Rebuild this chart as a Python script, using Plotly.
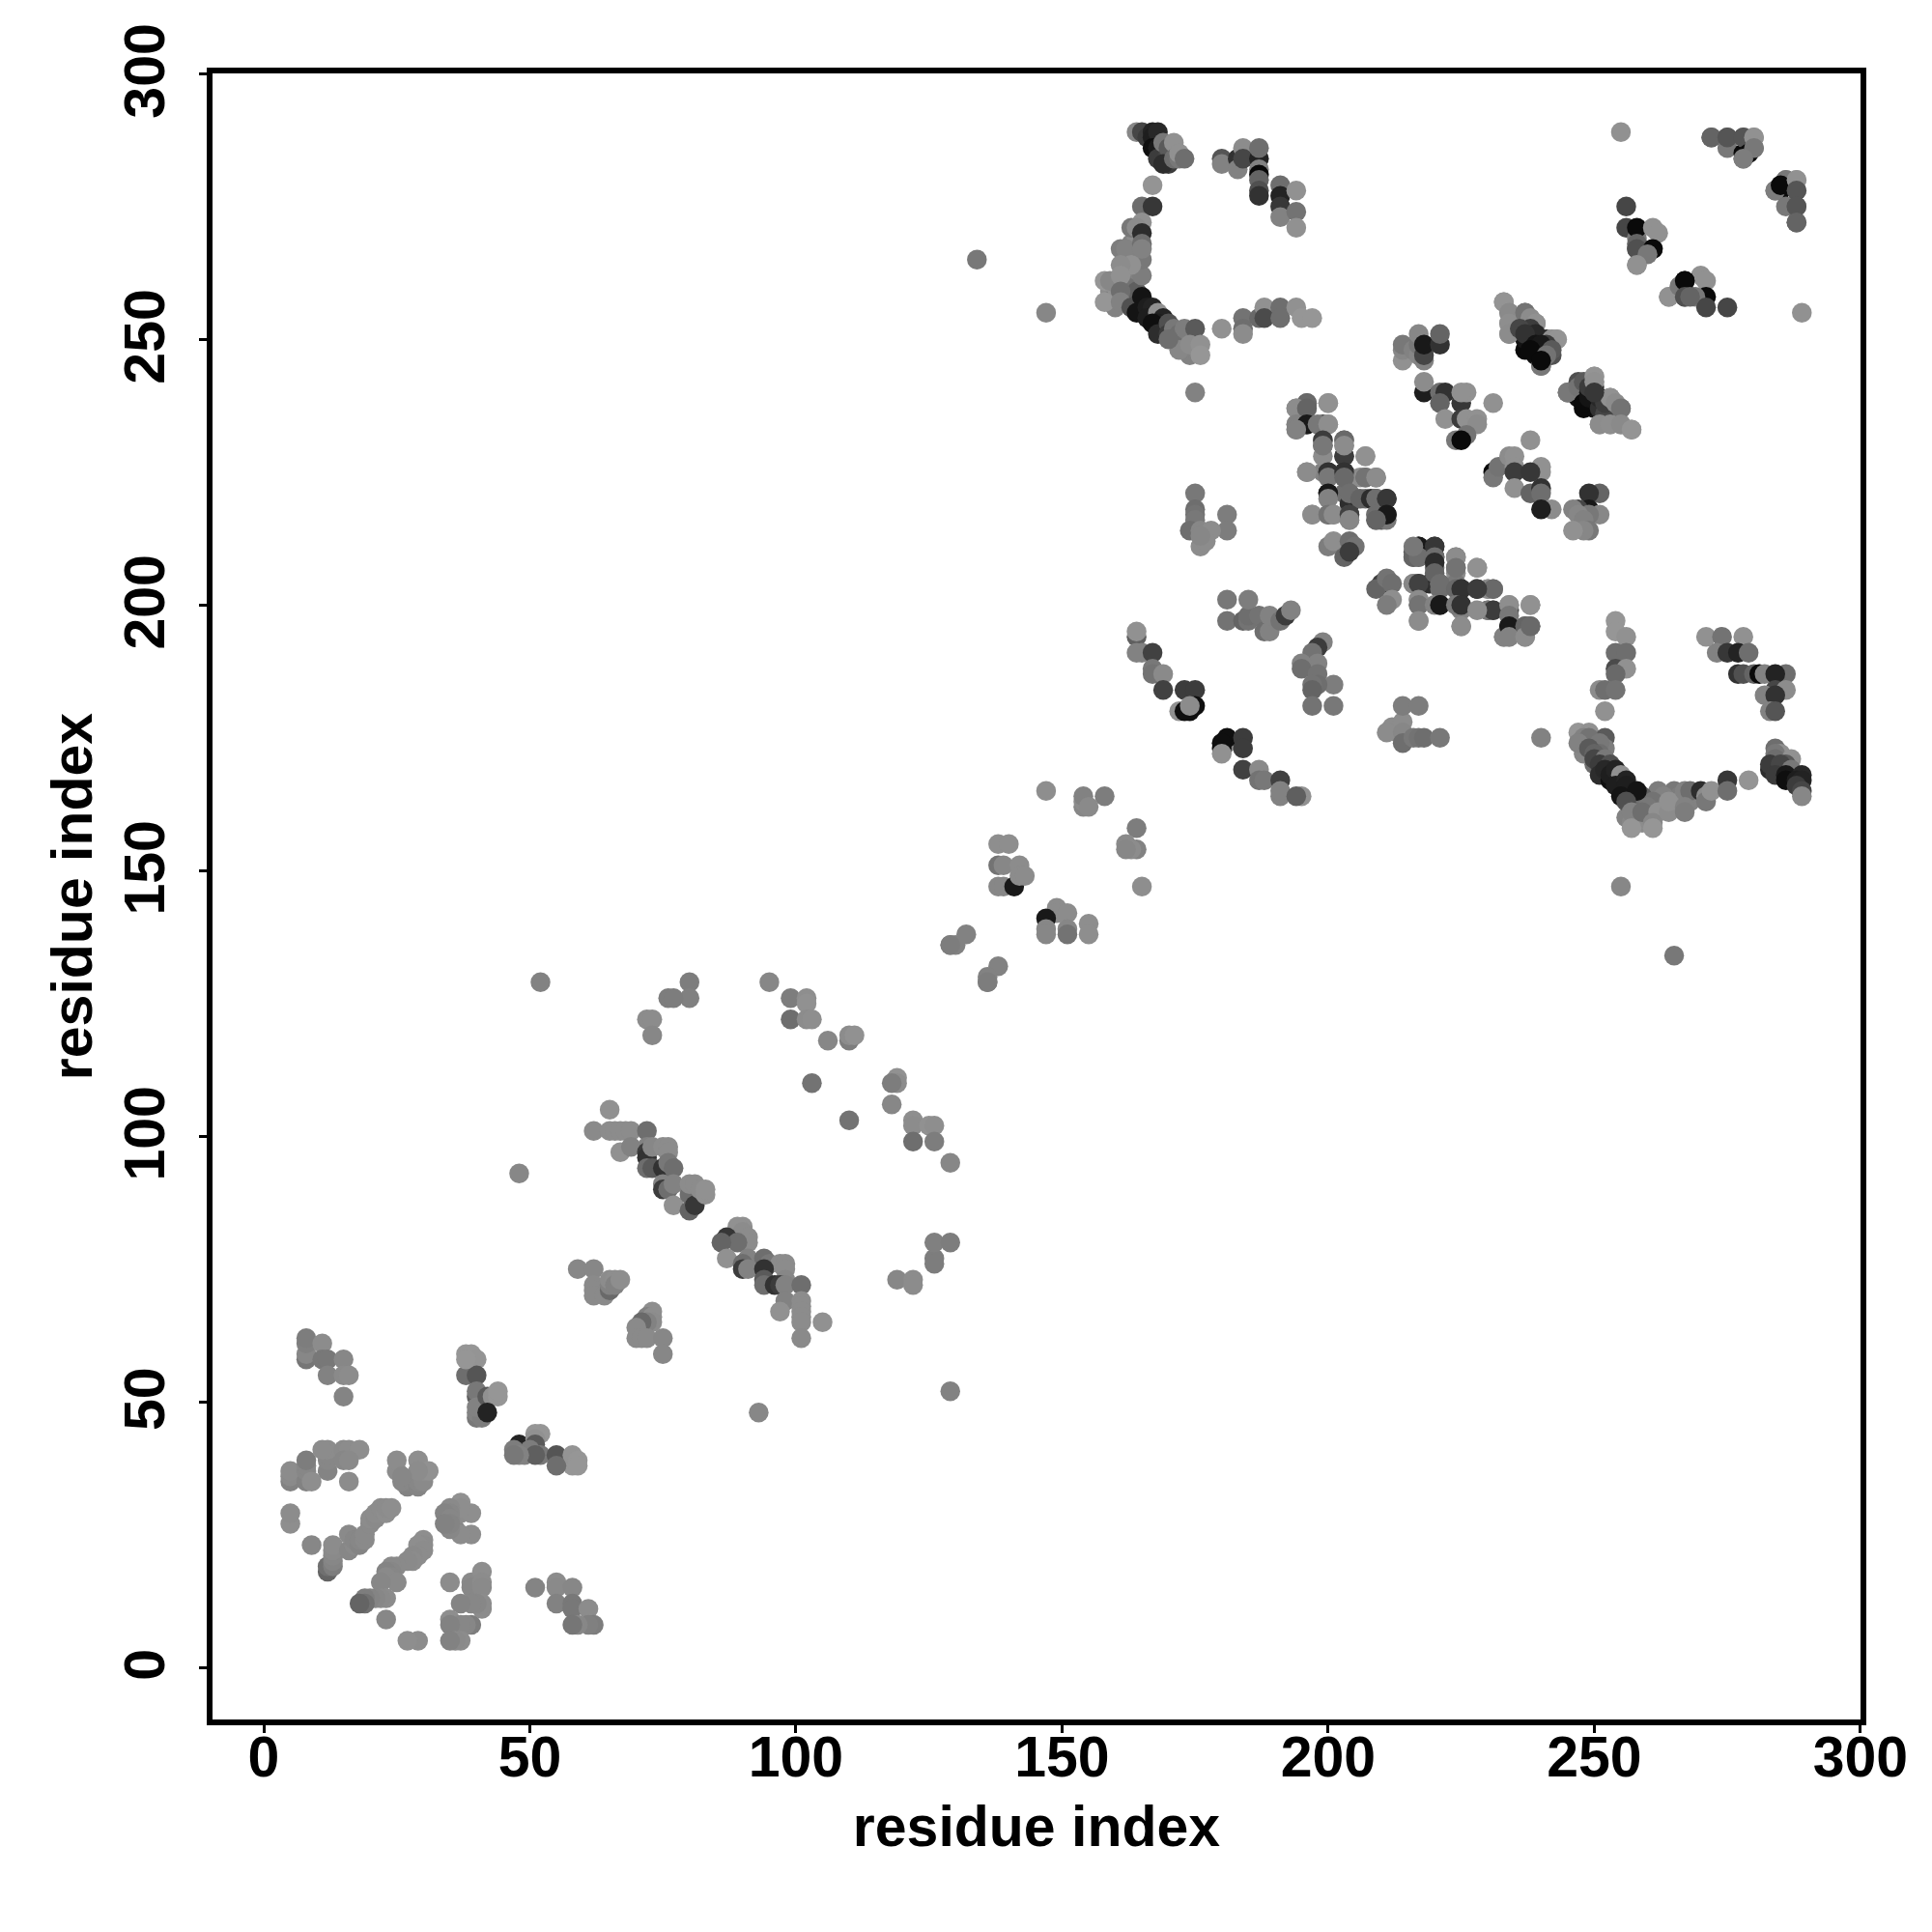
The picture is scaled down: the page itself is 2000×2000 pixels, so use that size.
import plotly.graph_objects as go

TICKS = [0, 50, 100, 150, 200, 250, 300]
AXIS_TITLE = "residue index"

a_i = [8,8,8,8,11,11,12,15,12,15,16,15]
a_j = [58,59,61,62,61,58,58,58,55,55,55,51]
a_g = [118,135,128,125,140,120,120,135,130,138,140,132]

b_i = [40,40,41,40,41,38,39,40,38,40,40,40,42,43,44,44,42,38]
b_j = [47,48,47,51,50,59,59,58,55,55,52,49,51,51,51,52,48,58]
b_g = [120,130,125,95,125,150,150,148,110,85,120,130,90,145,150,150,35,150]

c_i = [5,5,5,8,8,8,8,9,12,12,12,12,11,15,16,18,15,16,16]
c_j = [35,36,37,35,37,38,39,35,37,39,40,41,41,41,41,41,39,39,35]
c_g = [130,138,140,130,135,135,125,142,132,135,135,140,140,138,140,142,135,138,140]

d_i = [27,27,26,28,29,29,30,30,25,25,29,31,29,26]
d_j = [34,35,35,35,34,35,35,37,37,39,39,37,37,36]
d_g = [130,132,135,135,132,135,138,142,140,140,142,145,140,135]

e_i = [5,5,9,12,12,13,13,13,13,13,16,16,17,17,18,18,19,19,20,20,21,21,22,23,23,24]
e_j = [27,29,23,18,19,19,20,21,22,23,22,25,23,24,23,24,24,25,27,28,28,29,30,29,30,30]
e_g = [142,140,135,100,112,125,132,135,138,140,135,138,138,135,132,135,138,138,138,140,138,140,140,142,140,142]

m_i = [62,65,65,66,67,67,68,69,69,72,72,72,72,72,73,73,75,75,75,75,76,76,76,76,77,77,77,80,80,80,81,81,82,83,83]
m_j = [101,101,105,101,101,97,101,101,98,101,98,97,96,94,98,94,98,94,91,90,98,97,95,90,94,91,87,86,89,91,87,91,90,89,90]
m_g = [138,140,145,140,140,145,140,140,130,110,130,60,50,110,135,90,140,50,130,60,140,140,120,110,110,130,145,100,110,140,55,140,140,145,145]

n_i = [59,62,62,62,62,64,65,65,65,66,66,67]
n_j = [75,75,72,71,70,70,71,72,73,73,72,73]
n_g = [135,135,138,138,138,138,105,130,140,142,130,142]

o_i = [52,48,80,80,76,77,72,73,73,95,99,102,102,99,102,103,106,110,110,111,103]
o_j = [129,93,129,126,126,126,122,122,119,129,126,126,125,122,122,122,118,118,119,119,110]
o_g = [130,135,125,128,125,125,140,140,135,135,125,142,145,110,140,142,135,125,140,145,115]

p_i = [129,130,132,136,138,138,138,139,139,140,141,142,142,143,147,154,154,154,155,158,134,147]
p_j = [136,136,138,129,147,151,155,147,151,155,147,151,149,149,165,162,163,164,162,164,265,255]
p_g = [125,130,130,125,135,115,142,135,135,142,25,140,140,140,142,135,140,130,138,125,120,135]

q_i = [164,164,165,164,167,167,167,169,169,173,175,172,174,173,175,174]
q_j = [194,195,191,191,191,188,187,187,184,184,184,180,180,180,181,181]
q_g = [95,145,130,130,65,120,115,138,65,60,60,145,15,15,15,140]

q2_i = [181,181,184,185,185,185,187,188,189,189,191,192,193]
q2_j = [197,201,197,197,198,201,198,195,195,198,197,198,199]
q2_g = [115,120,100,115,110,125,115,110,130,130,115,60,130]

r_i = [175,175,175,175,181,181,174,176,178,176,177,176]
r_j = [221,218,217,216,217,214,214,214,214,211,212,213]
r_g = [120,110,115,120,125,125,110,135,140,140,140,135]

s_i = [194,194,194,196,196,196,199,199,199,200,200,203,203,203,207,196,199,200,203,204,206,207,209,200,203,204,204,207,209,211,211,209,209,210,197,200,201,204,204,200,201,204,205,203,204]
s_j = [237,234,233,238,237,234,234,231,230,238,234,231,230,228,228,225,225,225,225,224,224,224,224,221,221,221,219,220,220,220,217,217,216,216,217,217,217,217,216,211,212,212,211,209,210]
s_g = [140,145,135,105,120,25,70,130,90,145,142,115,130,70,140,140,130,50,60,120,140,105,115,25,110,115,45,110,40,55,20,120,110,90,140,125,142,80,135,125,142,110,115,100,60]

s2_i = [216,217,220,217,216,216,217,220,220,220,221,224,224,224,225,228,230,231,228,217,217,217,220,221,224,225,225,230,231,228,233,234,234,234,234,237,237,238,238]
s2_j = [209,211,211,209,211,204,204,209,208,206,204,209,207,203,203,207,203,203,203,201,200,197,200,200,200,200,196,199,199,199,194,200,198,196,194,196,194,200,196]
s2_g = [100,25,55,110,120,135,65,110,45,100,110,140,115,105,50,145,140,105,60,140,115,140,130,25,120,50,140,120,60,140,130,142,120,25,130,100,140,145,105]

t_i = [164,165,166,167,167,168,167,168,168,169,170,170,170,169,171,171,172,172,173]
t_j = [289,289,288,289,288,289,286,286,284,287,285,286,283,283,287,284,284,285,284]
t_g = [135,70,60,35,30,40,15,25,60,120,70,90,60,45,145,110,120,145,110]

t2_i = [180,180,183,183,184,184,187,187,187,187,187,187,187,191,191,194,191,191,194,194]
t2_j = [284,283,284,282,286,284,284,282,281,280,278,277,286,279,277,278,275,273,274,271]
t2_g = [85,130,50,130,140,70,35,130,10,100,80,50,110,110,35,145,55,130,115,145]

t0_i = [159,159,160,160,160,162,162,163,163,164,164,165,162,163,164,165,163,164]
t0_j = [259,257,258,260,256,260,258,258,261,259,263,262,265,266,266,265,268,269]
t0_g = [140,135,120,145,130,120,110,100,115,95,130,125,140,135,125,120,130,140]

t3_i = [167,165,167,165,163,164,165,161,162,165,165,163,161,158,159,161,161,158,161,163,165,164,166,167,166,168,169,168,169,167,168,170,170,171,171,172,173,172,174,174,175,175,173,175,172,174,176,176,170]
t3_j = [279,275,275,272,271,271,270,267,267,268,267,264,264,261,261,262,259,257,257,256,258,255,256,256,254,255,254,253,252,253,251,253,251,252,250,250,249,251,251,247,249,248,252,252,248,249,249,247,250]
t3_g = [148,110,55,145,120,140,45,125,130,110,130,145,140,150,135,145,110,150,130,80,20,20,30,35,30,145,35,30,40,15,45,80,60,120,70,100,90,110,120,130,115,130,125,90,135,140,145,150,110]

t4_i = [180,184,184,184,187,188,188,191,191,194,195,197,175]
t4_j = [252,254,252,251,254,256,254,256,254,256,254,254,240]
t4_g = [145,115,110,140,105,145,75,110,110,145,150,150,130]

u_i = [214,214,214,216,217,217,217,218,218,218,221,221]
u_j = [246,248,249,248,247,249,251,246,247,249,249,251]
u_g = [145,135,120,130,135,120,135,130,70,25,50,100]

u2_i = [218,218,221,222,221,225,226,225,231,222,225,226,228,228,226,224,225]
u2_j = [240,242,240,240,238,238,240,240,238,235,235,235,235,234,232,231,231]
u2_g = [30,140,110,50,100,55,145,145,145,145,60,145,145,140,115,120,10]

v_i = [233,234,234,234,236,237,238,238,239,239,240,240,235,236,237,237,238,239,237,240,241,241,240,242,242,243]
v_j = [257,255,253,251,252,248,252,250,249,247,246,245,254,254,253,250,251,253,255,245,250,248,250,247,250,250]
v_g = [148,135,140,142,10,10,25,15,20,15,10,145,90,70,60,20,30,125,110,145,40,50,60,80,145,148]

w_i = [256,256,258,258,258,259,258,261,261,262]
w_j = [275,271,269,267,264,267,271,267,271,270]
w_g = [70,70,120,90,145,100,10,10,145,145]

x_i = [272,275,275,278,278,278,280,280]
x_j = [288,288,286,284,285,288,286,288]
x_g = [90,100,120,125,10,110,120,145]

y_i = [255,284,286,285,288,288,288,288]
y_j = [289,278,280,279,280,278,275,272]
y_g = [145,125,120,10,145,85,85,100]

z_i = [246,245,247,248,248,249,249,249,250,250,251,251,252,252,253,254,255,251,253,255,257,250,264,266,267,267,268]
z_j = [240,240,241,242,238,240,239,241,243,242,237,239,236,238,239,238,237,234,234,234,233,240,258,260,261,258,258]
z_g = [10,120,115,90,10,25,20,60,148,145,50,40,70,60,145,140,115,140,142,138,148,55,145,120,10,80,100]

groups = [(a_i,a_j,a_g),(b_i,b_j,b_g),(c_i,c_j,c_g),(d_i,d_j,d_g),(e_i,e_j,e_g),
          (m_i,m_j,m_g),(n_i,n_j,n_g),(o_i,o_j,o_g),(p_i,p_j,p_g),(q_i,q_j,q_g),
          (q2_i,q2_j,q2_g),(r_i,r_j,r_g),(s_i,s_j,s_g),(s2_i,s2_j,s2_g),(t_i,t_j,t_g),
          (t2_i,t2_j,t2_g),(t0_i,t0_j,t0_g),(t3_i,t3_j,t3_g),(t4_i,t4_j,t4_g),(u_i,u_j,u_g),(u2_i,u2_j,u2_g),
          (v_i,v_j,v_g),(w_i,w_j,w_g),(x_i,x_j,x_g),(y_i,y_j,y_g),(z_i,z_j,z_g)]

xs, ys, cs = [], [], []
for gi, gj, gg in groups:
    rows = list(zip(gi, gj, gg, strict=True))
    for i, j, g in rows:
        xs.append(i); ys.append(j); cs.append(f"rgb({g},{g},{g})")
    for i, j, g in reversed(rows):
        xs.append(j); ys.append(i); cs.append(f"rgb({g},{g},{g})")

fig = go.Figure(go.Scatter(x=xs, y=ys, mode="markers",
                           marker=dict(size=20.5, color=cs, line=dict(width=0)),
                           hoverinfo="skip"))

font = dict(family="Liberation Sans", size=59, color="black", weight="bold")
axis = dict(showline=True, linewidth=6, linecolor="black", mirror=True,
            showgrid=False, zeroline=False, ticks="outside", ticklen=8, tickwidth=3,
            tickcolor="black", tickvals=TICKS, ticktext=[str(t) for t in TICKS],
            tickfont=font)
fig.update_xaxes(range=[-9.62, 300.02], ticklabelstandoff=-26,
                 title=dict(text=AXIS_TITLE, font=font, standoff=21), **axis)
fig.update_yaxes(range=[-9.8, 300.05], tickangle=-90, ticklabelstandoff=12, ticklabelshift=6,
                 title=dict(text=AXIS_TITLE, font=font, standoff=5), **axis)
fig.update_layout(width=1984, height=1984, paper_bgcolor="white", plot_bgcolor="white",
                  margin=dict(l=212, r=66.4, t=67.7, b=212, autoexpand=False), showlegend=False)
fig.write_html("out.html")
